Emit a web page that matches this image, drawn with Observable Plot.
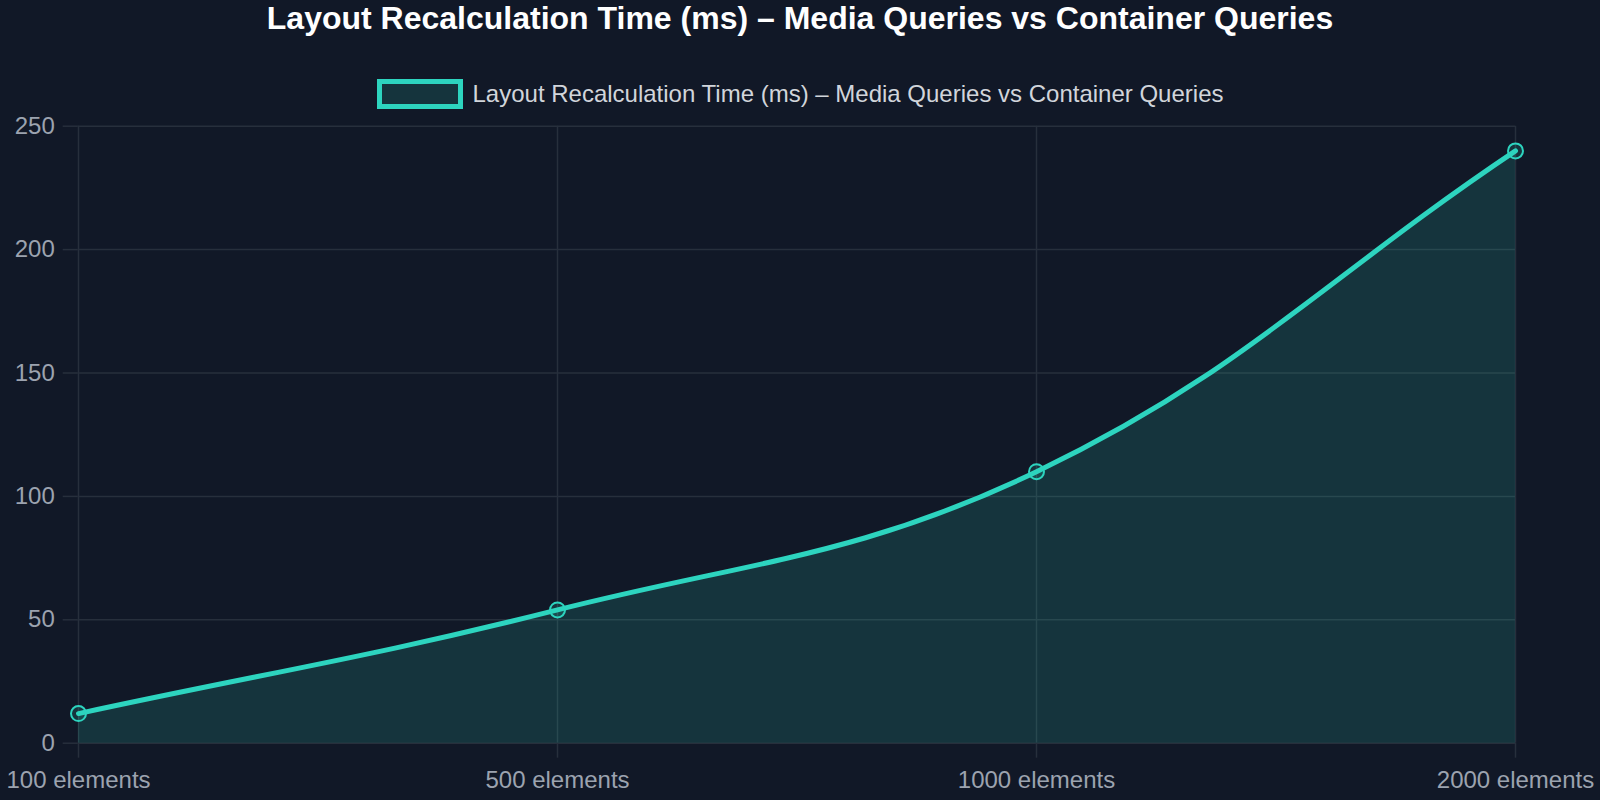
<!DOCTYPE html>
<html>
<head>
<meta charset="utf-8">
<script src="https://cdn.jsdelivr.net/npm/d3@7"></script>
<script src="https://cdn.jsdelivr.net/npm/@observablehq/plot@0.6"></script>
<style>
  html, body { margin: 0; padding: 0; background: #111827; overflow: hidden; }
  body { width: 1600px; height: 800px; position: relative; font-family: "Liberation Sans", Arial, sans-serif; }
  #title { position: absolute; left: 0; width: 1600px; top: -1px; text-align: center; color: #ffffff; font-weight: bold; font-size: 32px; line-height: 38px; }
  #legend { position: absolute; left: 0; width: 1600px; top: 79px; height: 30px; display: flex; justify-content: center; align-items: center; color: #d1d5db; font-size: 24px; }
  #legend .swatch { width: 76px; height: 20px; border: 5px solid #2dd4bf; background: rgba(45,212,191,0.15); margin-right: 10px; flex: none; }
  #chart { position: absolute; left: 0; top: 0; width: 1600px; height: 800px; overflow: hidden; }
  #chart svg { max-width: none !important; display: block; }
</style>
</head>
<body>
<div id="chart"></div>
<div id="title"></div>
<div id="legend"><div class="swatch"></div><span id="legendLabel"></span></div>
<script>
const titleText = "Layout Recalculation Time (ms) – Media Queries vs Container Queries";
const categories = ["100 elements", "500 elements", "1000 elements", "2000 elements"];
const values = [12, 54, 110, 240];
const yTicks = [0, 50, 100, 150, 200, 250];

document.getElementById("title").textContent = titleText;
document.getElementById("legendLabel").textContent = titleText;

const data = categories.map((c, i) => ({category: c, value: values[i]}));

// Chart.js-style spline (tension 0.4)
class SplineCurve {
  constructor(context, t) { this._context = context; this._t = t; this._line = NaN; }
  areaStart() { this._line = 0; }
  areaEnd() { this._line = NaN; }
  lineStart() { this._pts = []; }
  point(x, y) { this._pts.push([+x, +y]); }
  lineEnd() {
    const p = this._pts, n = p.length, ctx = this._context, t = this._t;
    if (n) {
      if (this._line) ctx.lineTo(p[0][0], p[0][1]); else ctx.moveTo(p[0][0], p[0][1]);
      const cps = p.map((cur, i) => {
        const prev = i > 0 ? p[i - 1] : cur;
        const next = i < n - 1 ? p[i + 1] : cur;
        const d01 = Math.hypot(cur[0] - prev[0], cur[1] - prev[1]);
        const d12 = Math.hypot(next[0] - cur[0], next[1] - cur[1]);
        let s01 = d01 / (d01 + d12), s12 = d12 / (d01 + d12);
        if (isNaN(s01)) s01 = 0;
        if (isNaN(s12)) s12 = 0;
        const fa = t * s01, fb = t * s12;
        return {
          c1: [cur[0] - fa * (next[0] - prev[0]), cur[1] - fa * (next[1] - prev[1])],
          c2: [cur[0] + fb * (next[0] - prev[0]), cur[1] + fb * (next[1] - prev[1])]
        };
      });
      for (let i = 1; i < n; i++) {
        ctx.bezierCurveTo(cps[i - 1].c2[0], cps[i - 1].c2[1], cps[i].c1[0], cps[i].c1[1], p[i][0], p[i][1]);
      }
    }
    if (this._line || (this._line !== 0 && n === 1)) ctx.closePath();
    this._line = 1 - this._line;
  }
}
const spline = (context) => new SplineCurve(context, 0.4);

const lineColor = "#2dd4bf";
const gridColor = "#272f3c";
const tickFont = 24;

const chart = Plot.plot({
  width: 1600,
  height: 800,
  marginTop: 125.7,
  marginBottom: 57.3,
  marginLeft: 77.7,
  marginRight: 85,
  style: {background: "#111827", fontFamily: "'Liberation Sans', Arial, sans-serif", fontSize: tickFont + "px", color: "#9ca3af", overflow: "visible"},
  x: {type: "point", domain: categories, padding: 0},
  y: {domain: [0, 250]},
  marks: [
    Plot.gridY(yTicks, {stroke: gridColor, strokeOpacity: 1, strokeWidth: 1.5}),
    Plot.gridX(categories, {stroke: gridColor, strokeOpacity: 1, strokeWidth: 1.5}),
    Plot.axisY(yTicks, {tickSize: 15, tickPadding: 8.4, stroke: gridColor, fill: "#9ca3af", fontSize: tickFont, label: null, strokeWidth: 1.5}),
    Plot.axisX(categories, {tickSize: 15, tickPadding: 13, stroke: gridColor, fill: "#9ca3af", fontSize: tickFont, label: null, strokeWidth: 1.5}),
    Plot.areaY(data, {x: "category", y: "value", curve: spline, fill: "rgba(45,212,191,0.15)"}),
    Plot.lineY(data, {x: "category", y: "value", curve: spline, stroke: lineColor, strokeWidth: 5}),
    Plot.dot(data, {x: "category", y: "value", r: 7.5, stroke: lineColor, strokeWidth: 2, fill: "rgba(45,212,191,0.15)"})
  ]
});
document.getElementById("chart").appendChild(chart);
</script>
</body>
</html>
